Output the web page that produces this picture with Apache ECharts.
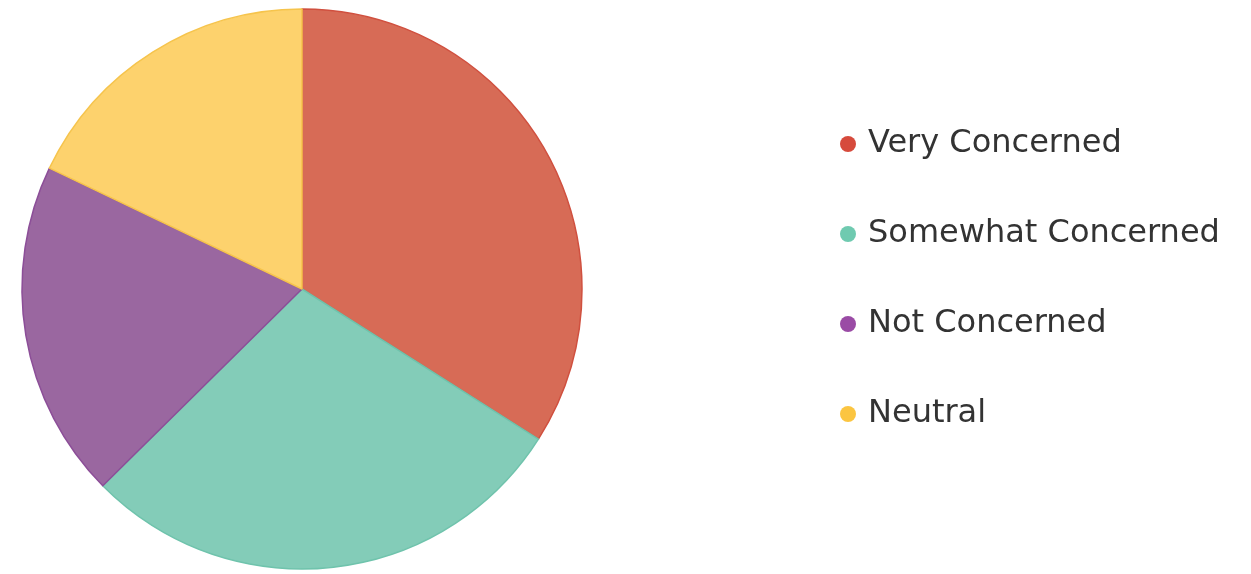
<!DOCTYPE html>
<html>
<head>
<meta charset="utf-8">
<script src="https://cdn.jsdelivr.net/npm/echarts@6/dist/echarts.min.js"></script>
<style>
  html, body { margin: 0; padding: 0; background: #ffffff; }
  #chart { width: 1251px; height: 574px; }
</style>
</head>
<body>
<div id="chart"></div>
<script>
// Survey responses: level of concern
const categories = ['Very Concerned', 'Somewhat Concerned', 'Not Concerned', 'Neutral'];
const shares = [34, 28.6, 19.5, 17.9];

const fillColors = ['#d76b56', '#83ccb8', '#9a67a0', '#fdd26d'];
const edgeColors = ['#d0503f', '#6fc3ac', '#8c4e98', '#f6c44c'];
const dotColors = ['#d64a3c', '#6fcab0', '#9a4ba5', '#fbc541'];

const chart = echarts.init(document.getElementById('chart'), null, { renderer: 'canvas' });

chart.setOption({
  animation: false,
  backgroundColor: '#ffffff',
  legend: {
    orient: 'vertical',
    left: 835,
    top: 123,
    itemWidth: 16,
    itemHeight: 16,
    itemGap: 58,
    icon: 'circle',
    data: categories.map((name, i) => ({
      name,
      itemStyle: { color: dotColors[i], borderWidth: 0 }
    })),
    textStyle: {
      fontFamily: 'DejaVu Sans',
      fontSize: 32,
      lineHeight: 32,
      color: '#333333',
      padding: [0, 0, 0, 7]
    }
  },
  series: [{
    type: 'pie',
    center: [302, 289],
    radius: 280,
    startAngle: 90,
    clockwise: true,
    label: { show: false },
    labelLine: { show: false },
    emphasis: { disabled: true },
    data: categories.map((name, i) => ({
      name,
      value: shares[i],
      itemStyle: {
        color: fillColors[i],
        borderColor: edgeColors[i],
        borderWidth: 1.5
      }
    }))
  }]
});
</script>
</body>
</html>
